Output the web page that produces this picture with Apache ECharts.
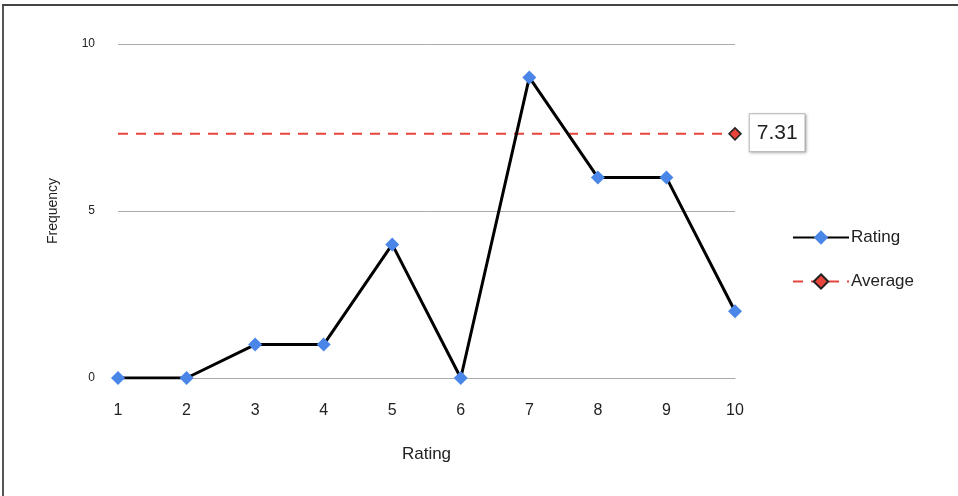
<!DOCTYPE html>
<html><head><meta charset="utf-8">
<script src="https://cdn.jsdelivr.net/npm/echarts@6/dist/echarts.min.js"></script>
<style>html,body{margin:0;padding:0;background:#fff}#c{width:958px;height:496px}</style>
</head><body><div id="c"></div>
<script>
const categories = ['1','2','3','4','5','6','7','8','9','10'];
const ratingValues = [0,0,1,1,4,0,9,6,6,2];
const averageValue = 7.31;
const yTicks = [0,5,10];

const avgData = categories.map((c,i)=> i === categories.length-1
  ? {value: averageValue, symbol:'diamond', symbolSize:12,
     label:{show:true, position:'right', offset:[3,-1], formatter: String(averageValue),
       fontSize:21, fontWeight:500, color:'#222', fontFamily:'Liberation Sans',
       backgroundColor:'#fff', borderColor:'#bbb', borderWidth:1, padding:[9,7,7,7],
       shadowColor:'rgba(0,0,0,0.25)', shadowBlur:3, shadowOffsetX:1, shadowOffsetY:1}}
  : {value: averageValue, symbol:'none'});

const chart = echarts.init(document.getElementById('c'));
chart.setOption({
  animation:false,
  textStyle:{fontFamily:'Liberation Sans'},
  grid:{left:118, right:223, top:44, bottom:118},
  graphic:[
    {type:'rect', shape:{x:2,y:4,width:2,height:492}, style:{fill:'#555'}},
    {type:'rect', shape:{x:2,y:4,width:956,height:2}, style:{fill:'#444'}}
  ],
  legend:{
    orient:'vertical', left:787, top:224, itemGap:27, itemWidth:56, itemHeight:18,
    textStyle:{fontSize:17, color:'#222', padding:[0,0,0,-3]},
    data:['Rating','Average']
  },
  xAxis:{
    type:'category', data:categories, boundaryGap:false,
    name:'Rating', nameLocation:'middle', nameGap:68,
    nameTextStyle:{fontSize:17, color:'#222'},
    axisLine:{show:true, lineStyle:{color:'#aaa', width:1}},
    axisTick:{show:false},
    axisLabel:{fontSize:16, color:'#222', margin:25}
  },
  yAxis:{
    type:'value', min:0, max:10, interval:5,
    name:'Frequency', nameLocation:'middle', nameGap:58, nameRotate:90,
    nameTextStyle:{fontSize:14, color:'#222'},
    axisLine:{show:false}, axisTick:{show:false},
    axisLabel:{fontSize:12, color:'#222', margin:23,
      formatter:v=> yTicks.includes(v)? String(v):''},
    splitLine:{lineStyle:{color:'#aaa', width:1}}
  },
  series:[
    {name:'Rating', type:'line', data:ratingValues, symbol:'diamond', symbolSize:14,
      lineStyle:{color:'#000', width:3}, itemStyle:{color:'#4a86e8'}, z:5},
    {name:'Average', type:'line', data:avgData, symbol:'diamond', symbolSize:12,
      lineStyle:{color:'#e8453c', width:2, type:[10,8]},
      itemStyle:{color:'#e8453c', borderColor:'#222', borderWidth:1.5}, z:4}
  ]
});
</script></body></html>
